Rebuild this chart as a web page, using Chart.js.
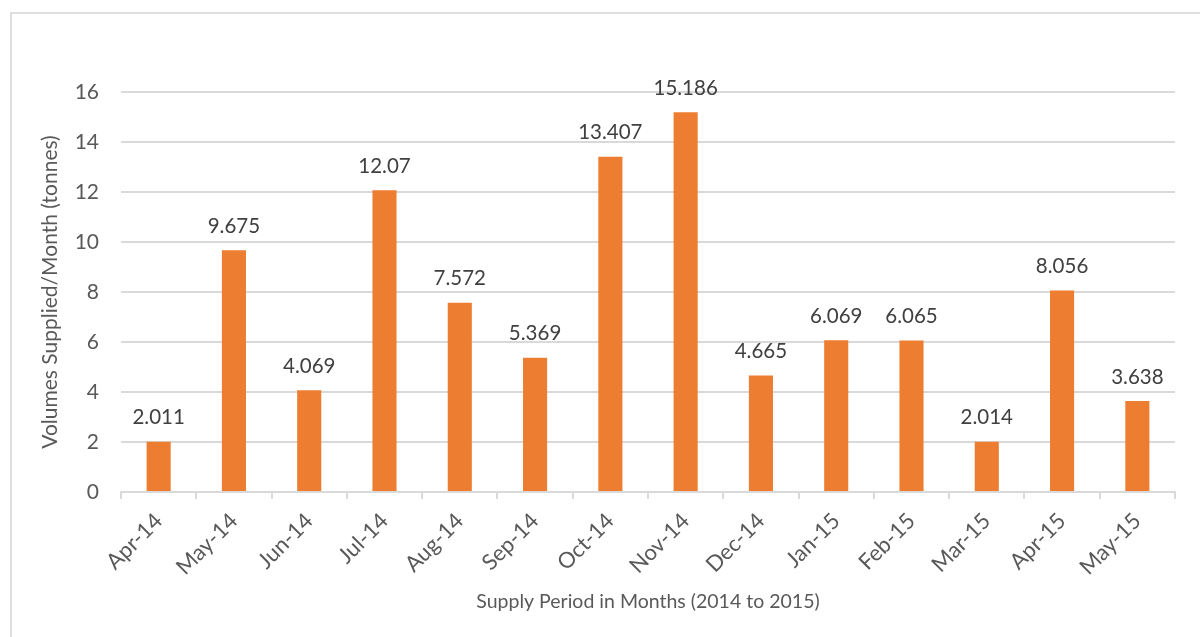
<!DOCTYPE html>
<html>
<head>
<meta charset="utf-8">
<script src="https://cdn.jsdelivr.net/npm/chart.js@4"></script>
<style>
  html, body { margin: 0; padding: 0; background: #fff; overflow: hidden; }
  #wrap { position: relative; width: 1200px; height: 637px; }
  #frame { position: absolute; left: 10px; top: 12px; width: 1300px; height: 700px; border: 2px solid #dedede; box-sizing: border-box; }
  canvas { position: absolute; left: 0; top: 0; }
</style>
</head>
<body>
<div id="wrap">
  <div id="frame"></div>
  <canvas id="chart" width="1200" height="637"></canvas>
</div>
<script>
const months = ["Apr-14", "May-14", "Jun-14", "Jul-14", "Aug-14", "Sep-14", "Oct-14",
  "Nov-14", "Dec-14", "Jan-15", "Feb-15", "Mar-15", "Apr-15", "May-15"];
const volumes = [2.011, 9.675, 4.069, 12.07, 7.572, 5.369, 13.407,
  15.186, 4.665, 6.069, 6.065, 2.014, 8.056, 3.638];
const yTitle = "Volumes Supplied/Month (tonnes)";
const xTitle = "Supply Period in Months (2014 to 2015)";

const textColor = "#595959";
const gridColor = "#d9d9d9";
const fontFamily = "Lato, 'Liberation Sans', sans-serif";

// draws the value above each bar
const valueLabels = {
  id: "valueLabels",
  afterDatasetsDraw(chart) {
    const ctx = chart.ctx;
    const meta = chart.getDatasetMeta(0);
    ctx.save();
    ctx.font = "20.5px " + fontFamily;
    ctx.fillStyle = "#404040";
    ctx.textAlign = "center";
    ctx.textBaseline = "middle";
    meta.data.forEach((bar, i) => {
      ctx.fillText(String(volumes[i]), bar.x, bar.y - 24);
    });
    ctx.restore();
  }
};

new Chart(document.getElementById("chart").getContext("2d"), {
  type: "bar",
  data: {
    labels: months,
    datasets: [{
      data: volumes,
      backgroundColor: "#ED7D31",
      borderWidth: 0,
      barPercentage: 0.32,
      categoryPercentage: 1
    }]
  },
  options: {
    responsive: false,
    animation: false,
    layout: { padding: { left: 28, right: 25, top: 92, bottom: 15 } },
    plugins: { legend: { display: false }, tooltip: { enabled: false } },
    scales: {
      x: {
        afterFit: (scale) => { scale.height = 130; },
        grid: { drawOnChartArea: false, drawTicks: true, tickLength: 7, color: gridColor, lineWidth: 2 },
        border: { color: gridColor, width: 2 },
        ticks: { color: textColor, font: { size: 22, family: fontFamily }, minRotation: 45, maxRotation: 45, padding: 9 },
        title: { display: true, text: xTitle, color: textColor, font: { size: 19.5, family: fontFamily }, padding: { top: 0, bottom: 9 } }
      },
      y: {
        min: 0,
        max: 16,
        afterFit: (scale) => { scale.width = 93; },
        grid: { color: gridColor, lineWidth: 2, drawTicks: false },
        border: { display: false },
        ticks: { stepSize: 2, color: textColor, font: { size: 21, family: fontFamily }, padding: 22 },
        title: { display: true, text: yTitle, color: textColor, font: { size: 21, family: fontFamily }, padding: { top: 10, bottom: 0 } }
      }
    }
  },
  plugins: [valueLabels]
});
</script>
</body>
</html>
